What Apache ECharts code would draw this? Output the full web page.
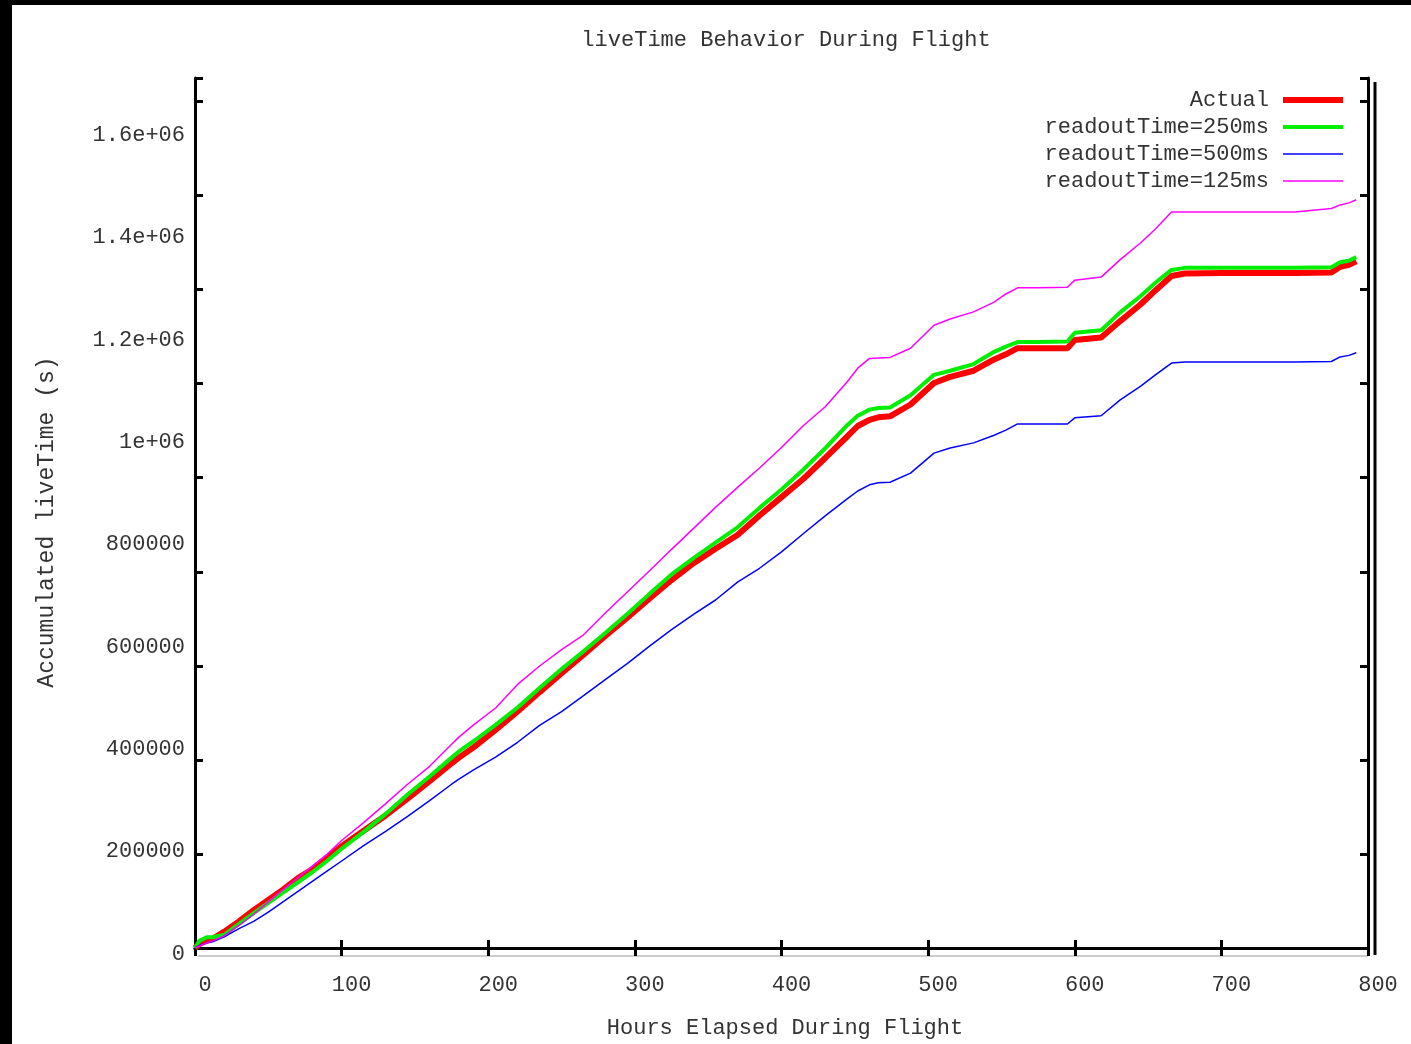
<!DOCTYPE html>
<html>
<head>
<meta charset="utf-8">
<script src="https://cdn.jsdelivr.net/npm/echarts@6/dist/echarts.min.js"></script>
<style>
  html, body { margin: 0; padding: 0; background: #fff; }
  #chart { width: 1411px; height: 1044px; }
</style>
</head>
<body>
<div id="chart"></div>
<script>
// Hours elapsed during the flight (sample points shared by all curves)
const hours = [0, 3, 8, 12, 20, 30, 40, 50, 60, 70, 80, 90, 100, 115, 130, 145, 160, 175, 180, 190,
  205, 220, 235, 250, 265, 280, 295, 310, 325, 340, 355, 370, 385, 400, 415, 430, 445, 452, 460, 466,
  474, 488, 504, 515, 531, 545, 553, 561, 575, 595, 600, 618, 631, 645, 655, 666, 675, 700, 725, 750,
  775, 781, 787, 792];

// Accumulated liveTime, thousands of seconds
const actual = [0, 8, 14, 18, 32, 52, 74, 94, 114, 136, 154, 176, 199, 229, 259, 292, 326, 361, 372, 392,
  426, 462, 500, 537, 573, 610, 646, 683, 719, 752, 780, 807, 845, 881, 917, 958, 1000, 1020, 1032, 1037,
  1039, 1062, 1104, 1116, 1128, 1150, 1160, 1172, 1172, 1172, 1188, 1193, 1225, 1258, 1285, 1313, 1318, 1319, 1319, 1319,
  1320, 1331, 1335, 1342];
const readout250 = [0, 14, 21, 21, 26, 47, 68, 88, 108, 128, 148, 170, 194, 227, 262, 300, 335, 372, 384, 404,
  436, 470, 508, 545, 580, 616, 653, 692, 730, 762, 792, 822, 860, 896, 935, 977, 1022, 1040, 1052, 1055,
  1056, 1080, 1120, 1128, 1141, 1165, 1175, 1184, 1184, 1185, 1202, 1207, 1242, 1274, 1300, 1325, 1329, 1329, 1329, 1329,
  1330, 1340, 1343, 1350];
const readout500 = [0, 5, 10, 12, 22, 38, 52, 70, 90, 110, 130, 150, 170, 200, 228, 257, 288, 320, 330, 348,
  373, 402, 435, 462, 493, 525, 556, 590, 622, 652, 680, 715, 742, 774, 810, 845, 878, 893, 905, 909,
  910, 928, 967, 977, 987, 1002, 1012, 1024, 1024, 1024, 1036, 1040, 1071, 1098, 1120, 1143, 1145, 1145, 1145, 1145,
  1146, 1155, 1158, 1163];
const readout125 = [0, 4, 10, 14, 24, 44, 66, 90, 114, 137, 160, 183, 210, 245, 282, 320, 355, 398, 412, 436,
  469, 515, 551, 583, 612, 655, 696, 737, 779, 820, 861, 900, 938, 978, 1021, 1058, 1107, 1133, 1152, 1153,
  1154, 1172, 1217, 1229, 1243, 1262, 1278, 1290, 1290, 1291, 1305, 1311, 1345, 1378, 1405, 1438, 1438, 1438, 1438, 1438,
  1445, 1452, 1456, 1462];

const seriesNames = ['Actual', 'readoutTime=250ms', 'readoutTime=500ms', 'readoutTime=125ms'];
const seriesValues = [actual, readout250, readout500, readout125];
const seriesColors = ['#ff0000', '#00ee00', '#0000ff', '#ff00ff'];
const seriesWidths = [6, 4, 1.5, 1.5];

const xTickLabels = ['0', '100', '200', '300', '400', '500', '600', '700', '800'];
const yTickLabels = ['0', '200000', '400000', '600000', '800000', '1e+06', '1.2e+06', '1.4e+06', '1.6e+06'];

const FONT = '"Liberation Mono", "DejaVu Sans Mono", monospace';
const INK = '#333';

const chart = echarts.init(document.getElementById('chart'));

// Tick-only value axes used for the inner tick marks on the left and right frame
const tickAxisY = (pos, showLine) => ({
  type: 'value', position: pos, min: 0, max: 1850000, interval: 200000,
  axisLine: { show: showLine, lineStyle: { color: '#000', width: 3 } },
  axisTick: { show: true, inside: true, length: 8, lineStyle: { color: '#000', width: 3 } },
  axisLabel: { show: false }, splitLine: { show: false }
});

chart.setOption({
  backgroundColor: '#fff',
  animation: false,
  title: {
    text: 'liveTime Behavior During Flight',
    left: 781, top: 24, textAlign: 'center',
    textStyle: { fontFamily: FONT, fontSize: 22, fontWeight: 'normal', color: INK }
  },
  legend: {
    orient: 'vertical', right: 60, top: 84, align: 'right',
    itemWidth: 60, itemHeight: 10, itemGap: 5,
    data: seriesNames,
    textStyle: { fontFamily: FONT, fontSize: 22, color: INK, lineHeight: 22, padding: [0, 9, 0, 0] },
    lineStyle: { width: 'inherit' },
    itemStyle: { opacity: 0 }
  },
  grid: { left: 195, top: 78, right: 43, bottom: 96 },
  xAxis: [
    {
      type: 'value', position: 'bottom', min: 0, max: 800, interval: 100,
      axisLine: { show: true, lineStyle: { color: '#000', width: 3 } },
      axisTick: { show: true, inside: true, length: 8, lineStyle: { color: '#000', width: 3 } },
      axisLabel: {
        fontFamily: FONT, fontSize: 22, color: INK, margin: 26, padding: [0, 0, 0, 20],
        formatter: v => xTickLabels[Math.round(v / 100)] || ''
      },
      splitLine: { show: false }
    },
    {
      type: 'value', position: 'top', min: 0, max: 800, interval: 100,
      axisLine: { show: true, lineStyle: { color: '#000', width: 3 } },
      axisTick: { show: true, inside: true, length: 8, lineStyle: { color: '#000', width: 3 } },
      axisLabel: { show: false }, splitLine: { show: false }
    }
  ],
  yAxis: [
    {
      type: 'value', position: 'left', min: 0, max: 1700000, interval: 200000,
      axisLine: { show: true, lineStyle: { color: '#000', width: 3 } },
      axisTick: { show: false },
      axisLabel: {
        fontFamily: FONT, fontSize: 22, color: INK, margin: 10,
        verticalAlign: 'top', lineHeight: 12,
        formatter: v => (v % 200000 === 0 ? (yTickLabels[v / 200000] || '') : '')
      },
      splitLine: { show: false }
    },
    tickAxisY('left', false),
    tickAxisY('right', true)
  ],
  graphic: [
    { type: 'rect', shape: { x: 0, y: 0, width: 1411, height: 5 }, style: { fill: '#000' }, silent: true },
    { type: 'rect', shape: { x: 0, y: 0, width: 12, height: 1044 }, style: { fill: '#000' }, silent: true },
    { type: 'line', shape: { x1: 198, y1: 956, x2: 1368, y2: 956 }, style: { stroke: '#999', lineWidth: 1 }, silent: true },
    { type: 'line', shape: { x1: 1375, y1: 82, x2: 1375, y2: 955 }, style: { stroke: '#000', lineWidth: 3 }, silent: true },
    {
      type: 'text', x: 47, y: 522, rotation: Math.PI / 2, silent: true,
      style: { text: 'Accumulated liveTime (s)', font: '23px ' + FONT, fill: INK, align: 'center', verticalAlign: 'middle' }
    },
    {
      type: 'text', x: 785, y: 1028, silent: true,
      style: { text: 'Hours Elapsed During Flight', font: '22px ' + FONT, fill: INK, align: 'center', verticalAlign: 'middle' }
    }
  ],
  series: seriesNames.map((name, k) => ({
    name, type: 'line', xAxisIndex: 0, yAxisIndex: 0,
    symbol: 'none', showSymbol: false,
    data: hours.map((h, i) => [h, seriesValues[k][i] * 1000]),
    lineStyle: { color: seriesColors[k], width: seriesWidths[k] },
    itemStyle: { color: seriesColors[k] },
    z: 2 + k
  }))
});
</script>
</body>
</html>
